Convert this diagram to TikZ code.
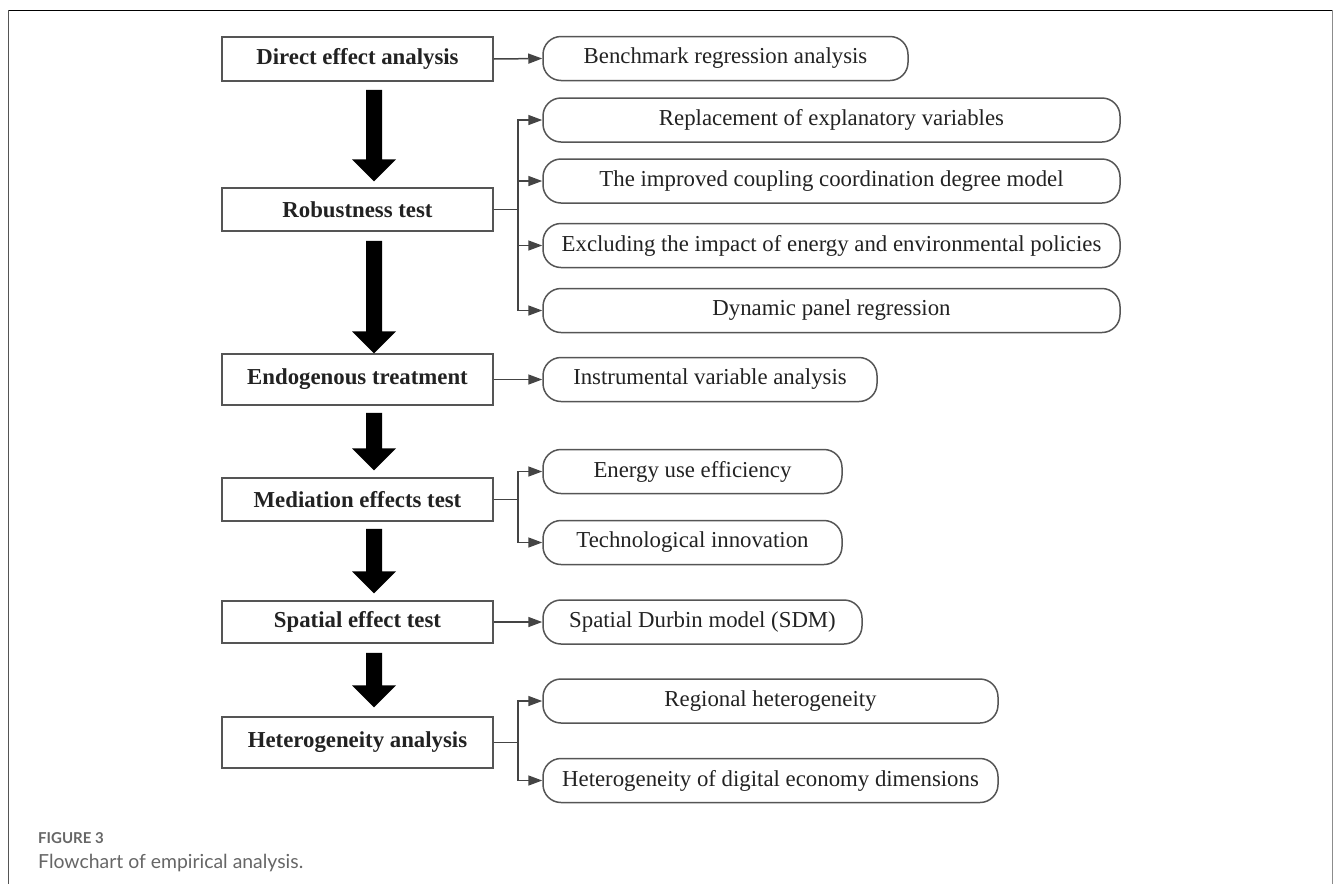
\documentclass[tikz,border=0pt]{standalone}
\usepackage{fontspec}
\setmainfont{Liberation Serif}
\newfontfamily\capfont{Lato}
\usetikzlibrary{arrows.meta,calc}
\definecolor{boxline}{HTML}{555555}
\definecolor{connline}{HTML}{444444}
\definecolor{txt}{HTML}{222222}
\definecolor{capgray}{HTML}{666666}
% #1 upper node, #2 lower node, #3 gap below #1, #4 gap above #2
\newcommand\bigarrow[4]{%
  \fill[black] let \p1=($(#1.south)+(16.5,#3)$), \p2=($(#2.north)+(16.5,-#4)$) in
    (\x1-8pt,\y1) -- (\x1+8pt,\y1) -- (\x1+8pt,\y2+22pt) -- (\x1+22pt,\y2+22pt)
    -- (\x1,\y2) -- (\x1-22pt,\y2+22pt) -- (\x1-8pt,\y2+22pt) -- cycle;}
\tikzset{
  leftbox/.style={draw=boxline, line width=1.5pt, fill=white, minimum width=271pt,
    minimum height=#1, inner sep=0pt, text=txt,
    font=\fontsize{22.8}{26}\selectfont\bfseries},
  rightbox/.style={draw=boxline, line width=1.5pt, rounded corners=18pt, fill=white,
    minimum width=#1, minimum height=44pt, inner sep=0pt, text=txt,
    font=\fontsize{22.8}{26}\selectfont},
  conn/.style={draw=connline, line width=1.5pt, -{Triangle[length=14pt,width=10pt]}},
}
\begin{document}
\begin{tikzpicture}[x=1pt,y=-1pt]
\useasboundingbox (0,0) rectangle (1333,884);
% frame
\draw[black, line width=1pt] (8,10) -- (1332,10);
\draw[boxline, line width=1pt] (8,10) -- (8,884);
\draw[black!45, line width=1pt] (1332,10) -- (1332,884);
% left boxes
\node[leftbox=44pt] (direct) at (357.5,59) {Direct effect analysis};
\node[leftbox=43pt] (robust) at (357.5,209.5) {Robustness test};
\node[leftbox=51pt] (endo) at (357.5,379.5) {Endogenous treatment};
\node[leftbox=43pt] (medi) at (357.5,499.5) {Mediation effects test};
\node[leftbox=42pt] (spat) at (357.5,622) {Spatial effect test};
\node[leftbox=51pt] (hetero) at (357.5,742.5) {Heterogeneity analysis};
% right boxes
\node[rightbox=365pt] (bench) at (725.5,58.5) {Benchmark regression analysis};
\node[rightbox=577pt] (repl) at (831.5,120) {Replacement of explanatory variables};
\node[rightbox=577pt] (impr) at (831.5,181) {The improved coupling coordination degree model};
\node[rightbox=577pt] (excl) at (831.5,245.5) {Excluding the impact of energy and environmental policies};
\node[rightbox=577pt] (dyn) at (831.5,310.5) {Dynamic panel regression};
\node[rightbox=334pt] (instr) at (710,379.5) {Instrumental variable analysis};
\node[rightbox=299pt] (energy) at (692.5,471.5) {Energy use efficiency};
\node[rightbox=299pt] (tech) at (692.5,542.5) {Technological innovation};
\node[rightbox=319pt] (sdm) at (702.5,622) {Spatial Durbin model (SDM)};
\node[rightbox=455pt] (region) at (770.5,701) {Regional heterogeneity};
\node[rightbox=455pt] (digital) at (770.5,780.5) {Heterogeneity of digital economy dimensions};
% thick arrows
\bigarrow{direct}{robust}{8}{6}
\bigarrow{robust}{endo}{9}{0}
\bigarrow{endo}{medi}{7}{7}
\bigarrow{medi}{spat}{7}{7}
\bigarrow{spat}{hetero}{9}{9}
% connectors
\draw[conn] (direct.east) -- (bench.west);
\draw[conn] (robust.east) -- ++(24,0) |- (repl.west);
\draw[conn] (robust.east) -- ++(24,0) |- (impr.west);
\draw[conn] (robust.east) -- ++(24,0) |- (excl.west);
\draw[conn] (robust.east) -- ++(24,0) |- (dyn.west);
\draw[conn] (endo.east) -- (instr.west);
\draw[conn] (medi.east) -- ++(24,0) |- (energy.west);
\draw[conn] (medi.east) -- ++(24,0) |- (tech.west);
\draw[conn] (spat.east) -- (sdm.west);
\draw[conn] (hetero.east) -- ++(24,0) |- (region.west);
\draw[conn] (hetero.east) -- ++(24,0) |- (digital.west);
% caption
\node[anchor=base west, inner sep=0pt, text=capgray, font=\capfont\bfseries\fontsize{15}{17}\selectfont] (figlab) at (38,843) {FIGURE 3};
\node[anchor=base west, inner sep=0pt, text=capgray, font=\capfont\fontsize{19.4}{22}\selectfont] (figcap) at (38,868) {Flowchart of empirical analysis.};
\end{tikzpicture}
\end{document}
